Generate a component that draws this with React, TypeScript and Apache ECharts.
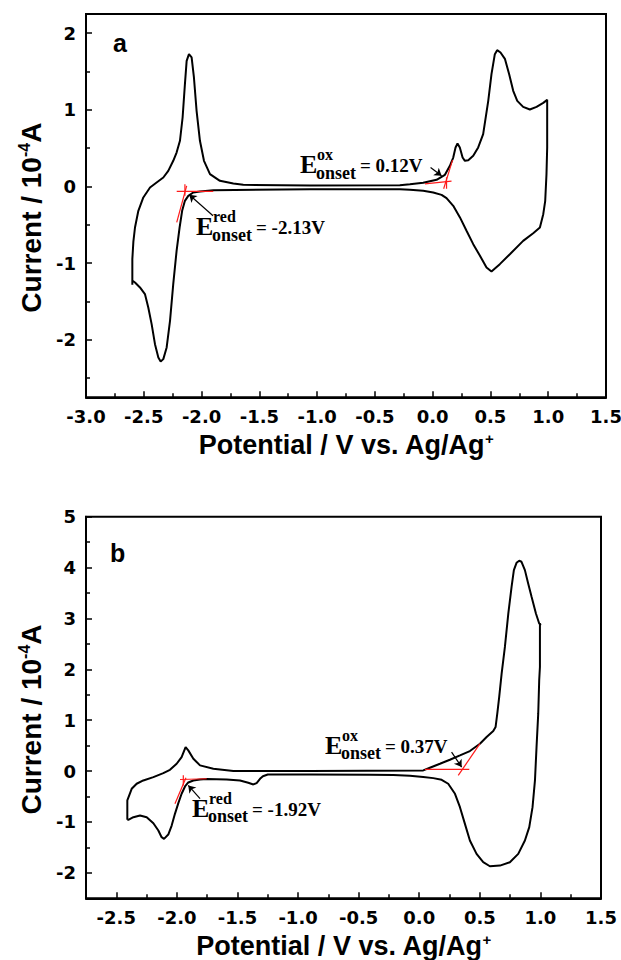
import React, { useEffect, useRef } from 'react';
import * as echarts from 'echarts';

// ---------- Panel a: cyclic voltammogram (V, 10^-4 A) ----------
const cvA: [number, number][] = [
  [-2.599, -1.283], [-2.599, -0.948], [-2.59, -0.72], [-2.576, -0.535], [-2.547, -0.317],
  [-2.504, -0.143], [-2.446, -0.013], [-2.389, 0.052], [-2.331, 0.117], [-2.288, 0.204],
  [-2.245, 0.335], [-2.216, 0.443], [-2.187, 0.596], [-2.164, 0.9], [-2.144, 1.335],
  [-2.129, 1.639], [-2.109, 1.726], [-2.086, 1.683], [-2.066, 1.422], [-2.043, 0.987],
  [-2.014, 0.596], [-1.979, 0.335], [-1.927, 0.161], [-1.841, 0.074], [-1.725, 0.039],
  [-1.639, 0.022], [-1.062, 0.013], [-0.284, 0.017], [-0.197, 0.03], [-0.082, 0.048],
  [0.034, 0.087], [0.106, 0.152], [0.149, 0.27], [0.178, 0.378], [0.198, 0.509],
  [0.215, 0.561], [0.235, 0.509], [0.259, 0.378], [0.279, 0.335], [0.308, 0.343],
  [0.351, 0.4], [0.394, 0.509], [0.437, 0.683], [0.481, 1.117], [0.509, 1.465],
  [0.538, 1.726], [0.558, 1.778], [0.587, 1.748], [0.625, 1.665], [0.662, 1.465],
  [0.697, 1.248], [0.732, 1.117], [0.783, 1.039], [0.841, 1.004], [0.899, 1.039],
  [0.957, 1.091], [0.991, 1.13], [0.991, 0.509], [0.985, 0.161], [0.974, -0.187],
  [0.957, -0.361], [0.928, -0.535], [0.87, -0.609], [0.783, -0.709], [0.668, -0.883],
  [0.581, -1.013], [0.509, -1.109], [0.466, -1.057], [0.408, -0.9], [0.351, -0.752],
  [0.293, -0.578], [0.235, -0.4], [0.178, -0.252], [0.12, -0.152], [0.077, -0.109],
  [0.005, -0.078], [-0.082, -0.057], [-0.197, -0.043], [-0.284, -0.035], [-1.062, -0.035],
  [-1.898, -0.048], [-2.014, -0.065], [-2.072, -0.078], [-2.115, -0.122], [-2.144, -0.187],
  [-2.168, -0.317], [-2.19, -0.535], [-2.216, -0.839], [-2.245, -1.274], [-2.273, -1.752],
  [-2.302, -2.1], [-2.331, -2.252], [-2.354, -2.283], [-2.374, -2.23], [-2.403, -2.057],
  [-2.432, -1.796], [-2.461, -1.578], [-2.49, -1.404], [-2.533, -1.317], [-2.576, -1.252],
  [-2.596, -1.23],
];

// ---------- Panel b ----------
const cvB: [number, number][] = [
  [-2.409, -0.958], [-2.409, -0.577], [-2.373, -0.348], [-2.332, -0.249], [-2.277, -0.184],
  [-2.194, -0.118], [-2.112, -0.039], [-2.057, 0.026], [-2.002, 0.144], [-1.961, 0.276],
  [-1.928, 0.472], [-1.906, 0.407], [-1.864, 0.243], [-1.809, 0.112], [-1.699, 0.046],
  [-1.534, 0.0], [-0.902, 0.0], [0.033, 0.013], [0.088, 0.066], [0.171, 0.144],
  [0.253, 0.223], [0.336, 0.308], [0.418, 0.394], [0.501, 0.538], [0.556, 0.669],
  [0.611, 0.787], [0.63, 0.866], [0.644, 1.129], [0.66, 1.457], [0.68, 1.916],
  [0.707, 2.441], [0.735, 3.097], [0.762, 3.622], [0.781, 3.95], [0.803, 4.094],
  [0.825, 4.134], [0.844, 4.114], [0.872, 3.95], [0.899, 3.688], [0.927, 3.425],
  [0.963, 3.097], [0.99, 2.9], [1.001, 2.887], [0.996, 2.867], [0.996, 2.047],
  [0.99, 1.785], [0.982, 1.129], [0.968, 0.472], [0.955, -0.184], [0.935, -0.709],
  [0.908, -1.102], [0.872, -1.365], [0.817, -1.627], [0.748, -1.791], [0.666, -1.857],
  [0.583, -1.87], [0.528, -1.791], [0.473, -1.627], [0.418, -1.365], [0.377, -1.037],
  [0.336, -0.709], [0.295, -0.446], [0.239, -0.249], [0.185, -0.171], [0.116, -0.138],
  [0.033, -0.118], [-0.077, -0.092], [-0.214, -0.079], [-0.407, -0.072], [-0.902, -0.066],
  [-1.25, -0.066], [-1.29, -0.1], [-1.314, -0.151], [-1.342, -0.236], [-1.369, -0.262], [-1.411, -0.23],
  [-1.479, -0.184], [-1.589, -0.164], [-1.754, -0.157], [-1.809, -0.164], [-1.864, -0.184],
  [-1.906, -0.223], [-1.933, -0.302], [-1.961, -0.446], [-1.988, -0.63], [-2.016, -0.84],
  [-2.043, -1.07], [-2.071, -1.247], [-2.106, -1.332], [-2.126, -1.299], [-2.153, -1.168],
  [-2.194, -1.024], [-2.249, -0.906], [-2.304, -0.873], [-2.359, -0.906], [-2.401, -0.958],
  [-2.409, -0.958],
];

// ---------- Axis ticks ----------
const xMajorA = [-3, -2.5, -2, -1.5, -1, -0.5, 0, 0.5, 1, 1.5];
const xMinorA = [-2.75, -2.25, -1.75, -1.25, -0.75, -0.25, 0.25, 0.75, 1.25];
const yMajorA = [-2, -1, 0, 1, 2];
const yMinorA = [-2.5, -1.5, -0.5, 0.5, 1.5];
const xMajorB = [-2.5, -2, -1.5, -1, -0.5, 0, 0.5, 1, 1.5];
const xMinorB = [-2.25, -1.75, -1.25, -0.75, -0.25, 0.25, 0.75, 1.25];
const yMajorB = [-2, -1, 0, 1, 2, 3, 4, 5];
const yMinorB = [-1.5, -0.5, 0.5, 1.5, 2.5, 3.5, 4.5];

// ---------- Onset construction lines (red) ----------
const redA: [number, number][][] = [
  [[-2.215, -0.065], [-1.899, -0.065]],
  [[-2.215, -0.469], [-2.129, 0.009]],
  [[-2.144, 0.03], [-2.144, -0.121]],
  [[-0.067, 0.035], [0.163, 0.07]],
  [[0.095, -0.03], [0.172, 0.343]],
  [[0.12, 0.12], [0.12, -0.03]],
];
const redB: [number, number][][] = [
  [[-1.974, -0.165], [-1.754, -0.15]],
  [[-2.016, -0.642], [-1.925, -0.13]],
  [[-1.947, -0.084], [-1.947, -0.281]],
  [[0.047, 0.033], [0.413, 0.033]],
  [[0.322, -0.085], [0.501, 0.539]],
];
// ---------- Pointer lines (black) ----------
const arrowsA: [number, number][][] = [
  [[-0.018, 0.248], [0.077, 0.14]],
  [[-1.901, -0.382], [-2.106, -0.108]],
];
const arrowsB: [number, number][][] = [
  [[0.267, 0.374], [0.35, 0.079]],
  [[-1.809, -0.543], [-1.906, -0.281]],
];

// ---------- Annotations ----------
const notes = [
  { series: 0, at: [-1.149, 0.283], sup: 'ox', val: '= 0.12V' },
  { series: 0, at: [-2.048, -0.525], sup: 'red', val: '= -2.13V' },
  { series: 1, at: [-0.778, 0.506], sup: 'ox', val: '= 0.37V' },
  { series: 1, at: [-1.875, -0.734], sup: 'red', val: '= -1.92V' },
];

const SANS = 'Liberation Sans, Arial, sans-serif';
const TICKF = 'DejaVu Sans, sans-serif';
const SERIF = 'Liberation Serif, Times New Roman, serif';

const labelStyle = {
  fontFamily: TICKF,
  fontWeight: 'bold' as const,
  fontSize: 18,
  color: '#000',
};

const nameRich = {
  t: { fontFamily: SANS, fontWeight: 'bold' as const, fontSize: 27, color: '#000', lineHeight: 27 },
  s: { fontFamily: SANS, fontWeight: 'bold' as const, fontSize: 15, color: '#000', lineHeight: 11, verticalAlign: 'top' as const },
};
const nameRichY = {
  t: { fontFamily: SANS, fontWeight: 'bold' as const, fontSize: 28, color: '#000', lineHeight: 30 },
  s: { fontFamily: SANS, fontWeight: 'bold' as const, fontSize: 16, color: '#000', lineHeight: 12, verticalAlign: 'top' as const },
};

function majorAxis(gridIndex: number, min: number, max: number, ticks: number[], isX: boolean, fmt: (v: number) => string, name: string, nameGap: number, padding?: number[]) {
  return {
    type: 'value',
    gridIndex,
    min,
    max,
    position: isX ? 'bottom' : 'left',
    axisLine: { show: true, onZero: false, lineStyle: { color: '#000', width: 2 } },
    axisTick: { show: true, inside: true, length: 6, customValues: ticks, lineStyle: { color: '#000', width: 1.5 } },
    axisLabel: { show: true, customValues: ticks, margin: 10, formatter: fmt, ...labelStyle },
    splitLine: { show: false },
    name,
    nameLocation: 'middle',
    nameGap,
    nameTextStyle: { fontFamily: SANS, fontWeight: 'bold', fontSize: isX ? 27 : 28, color: '#000', rich: isX ? nameRich : nameRichY, padding: padding || 0 },
  };
}

function minorAxis(gridIndex: number, min: number, max: number, ticks: number[], isX: boolean) {
  return {
    type: 'value',
    gridIndex,
    min,
    max,
    position: isX ? 'bottom' : 'left',
    axisLine: { show: false, onZero: false },
    axisTick: { show: true, inside: true, length: 4, customValues: ticks, lineStyle: { color: '#000', width: 1.5 } },
    axisLabel: { show: false },
    splitLine: { show: false },
  };
}

const fx = (v: number) => v.toFixed(1);
const fy = (v: number) => String(v);

export default function App() {
  const ref = useRef<HTMLDivElement>(null);
  useEffect(() => {
    if (!ref.current) return;
    const chart = echarts.init(ref.current, null, { renderer: 'svg' });
    const xName = '{t|Potential / V vs. Ag/Ag}{s|+}';
    const yName = '{t|Current / 10}{s|-4}{t|A}';

    const seg = (d: [number, number][], xi: number, color: string, w: number) => ({
      type: 'line',
      xAxisIndex: xi,
      yAxisIndex: xi,
      data: d,
      showSymbol: false,
      silent: true,
      z: 4,
      lineStyle: { color, width: w },
    });

    const series: any[] = [
      { type: 'line', xAxisIndex: 0, yAxisIndex: 0, data: cvA, showSymbol: false, silent: true, z: 3, lineStyle: { color: '#000', width: 2 } },
      { type: 'line', xAxisIndex: 2, yAxisIndex: 2, data: cvB, showSymbol: false, silent: true, z: 3, lineStyle: { color: '#000', width: 2 } },
      ...redA.map((d) => seg(d, 0, '#ff1a1a', 1.2)),
      ...redB.map((d) => seg(d, 2, '#ff1a1a', 1.2)),
      {
        type: 'lines', coordinateSystem: 'cartesian2d', xAxisIndex: 0, yAxisIndex: 0, silent: true, z: 5,
        symbol: ['none', 'arrow'], symbolSize: 7,
        lineStyle: { color: '#000', width: 1.2, opacity: 1 },
        data: arrowsA.map((c) => ({ coords: c })),
      },
      {
        type: 'lines', coordinateSystem: 'cartesian2d', xAxisIndex: 2, yAxisIndex: 2, silent: true, z: 5,
        symbol: ['none', 'arrow'], symbolSize: 7,
        lineStyle: { color: '#000', width: 1.2, opacity: 1 },
        data: arrowsB.map((c) => ({ coords: c })),
      },
    ];

    chart.setOption({
      animation: false,
      backgroundColor: '#fff',
      grid: [
        { left: 86, top: 14, width: 520, height: 383.3, show: true, borderColor: '#000', borderWidth: 2, backgroundColor: 'transparent', containLabel: false, outerBoundsMode: 'none' },
        { left: 86, top: 516.7, width: 515, height: 381.6, show: true, borderColor: '#000', borderWidth: 2, backgroundColor: 'transparent', containLabel: false, outerBoundsMode: 'none' },
      ],
      xAxis: [
        majorAxis(0, -3, 1.5, xMajorA, true, fx, xName, 34),
        minorAxis(0, -3, 1.5, xMinorA, true),
        majorAxis(1, -2.75, 1.5, xMajorB, true, fx, xName, 34),
        minorAxis(1, -2.75, 1.5, xMinorB, true),
      ],
      yAxis: [
        majorAxis(0, -2.75, 2.25, yMajorA, false, fy, yName, 38, [0, 24, 0, 0]),
        minorAxis(0, -2.75, 2.25, yMinorA, false),
        majorAxis(1, -2.5, 5, yMajorB, false, fy, yName, 38, [0, 24, 0, 0]),
        minorAxis(1, -2.5, 5, yMinorB, false),
      ],
      series,
    });

    const graphic: any[] = [
      { type: 'text', left: 113, top: 30, style: { text: 'a', fontFamily: SANS, fontWeight: 'bold', fontSize: 25, fill: '#000' } },
      { type: 'text', left: 110, top: 540, style: { text: 'b', fontFamily: SANS, fontWeight: 'bold', fontSize: 25, fill: '#000' } },
    ];
    notes.forEach((n) => {
      const p = chart.convertToPixel({ seriesIndex: n.series }, n.at) as number[];
      const ex = p[0];
      const ey = p[1];
      const base = { fontFamily: SERIF, fontWeight: 'bold', fill: '#000', verticalAlign: 'middle', align: 'left' };
      graphic.push({ type: 'text', x: ex, y: ey, z: 10, style: { ...base, text: 'E', fontSize: 26 } });
      graphic.push({ type: 'text', x: ex + 17, y: ey - 10, z: 10, style: { ...base, text: n.sup, fontSize: 16 } });
      graphic.push({ type: 'text', x: ex + 16, y: ey + 8, z: 10, style: { ...base, text: 'onset', fontSize: 18 } });
      graphic.push({ type: 'text', x: ex + 60, y: ey + 1, z: 10, style: { ...base, text: n.val, fontSize: 19 } });
    });
    chart.setOption({ graphic });

    return () => chart.dispose();
  }, []);

  return (
    <div
      ref={ref}
      style={{ position: 'absolute', left: 0, top: 0, width: 621, height: 960, background: '#fff' }}
    />
  );
}
